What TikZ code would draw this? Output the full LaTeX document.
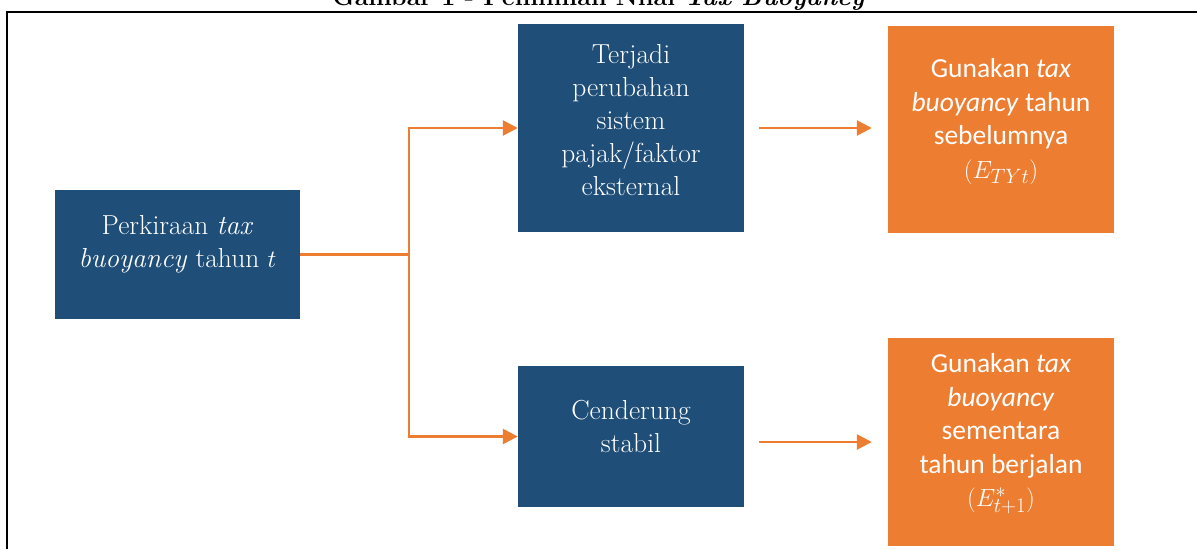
\documentclass[tikz,border=0pt]{standalone}
\usepackage{fontspec}
\newfontfamily\carlito{Carlito}
\usetikzlibrary{arrows.meta,calc}
\definecolor{navy}{HTML}{1F4E79}
\definecolor{orng}{HTML}{ED7D31}
\tikzset{
  bluebox/.style={fill=navy, draw=none, inner sep=0pt},
  orangebox/.style={fill=orng, draw=none, inner sep=0pt},
  serifText/.style={text=white, align=center, inner sep=0pt, font=\fontsize{27.5}{33}\selectfont},
  sansText/.style={text=white, align=center, inner sep=0pt, font=\carlito\fontsize{27.5}{33.5}\selectfont},
  conn/.style={draw=orng, line width=2.6pt, -{Triangle[length=15pt,width=15pt]}},
}
\begin{document}
\begin{tikzpicture}[x=1pt,y=-1pt]
\useasboundingbox (0,0) rectangle (1197,549);
\fill[white] (0,0) rectangle (1197,549);
\begin{scope}
\clip (0,0) rectangle (1197,549);
\node[anchor=base, inner sep=0pt, font=\bfseries\fontsize{25}{28}\selectfont] (title) at (599,5) {Gambar 1 - Pemilihan Nilai \textit{Tax Buoyancy}};
\end{scope}
\draw[line width=2pt] (7,549) -- (7,12) -- (1197,12);

\node[bluebox, minimum width=245pt, minimum height=129pt] (A) at (177.5,254.5) {};
\node[bluebox, minimum width=226pt, minimum height=208pt] (B) at (631,128) {};
\node[bluebox, minimum width=226pt, minimum height=141pt] (C) at (631,436.5) {};
\node[orangebox, minimum width=226pt, minimum height=207pt] (D) at (1001,129.5) {};
\node[orangebox, minimum width=226pt, minimum height=208pt] (E) at (1001,442) {};

\node[serifText, yshift=10pt] (tA) at (A.center) {Perkiraan \textit{tax}\\\textit{buoyancy} tahun $t$};
\node[serifText, yshift=8pt] (tB) at (B.center) {Terjadi\\perubahan\\sistem\\pajak/faktor\\eksternal};
\node[serifText, yshift=10pt] (tC) at (C.center) {Cenderung\\stabil};
\node[sansText, yshift=8pt] (tD) at (D.center) {Gunakan \textit{tax}\\\textit{buoyancy} tahun\\sebelumnya\\$(E_{TYt})$};
\node[sansText, yshift=8pt] (tE) at (E.center) {Gunakan \textit{tax}\\\textit{buoyancy}\\sementara\\tahun berjalan\\$(E^{*}_{t+1})$};

\coordinate (J) at (409,254.5);
\coordinate (b1) at ([xshift=15pt]B.east);
\coordinate (d1) at ([xshift=-16pt]D.west);
\coordinate (c1) at ([xshift=15pt]C.east);
\coordinate (e1) at ([xshift=-16pt]E.west);
\draw[conn] (A.east) -- (J) |- (B.west);
\draw[conn] (J) |- (C.west);
\draw[conn] (b1) -- (b1 -| d1);
\draw[conn] (c1 |- e1) -- (e1);
\end{tikzpicture}
\end{document}
